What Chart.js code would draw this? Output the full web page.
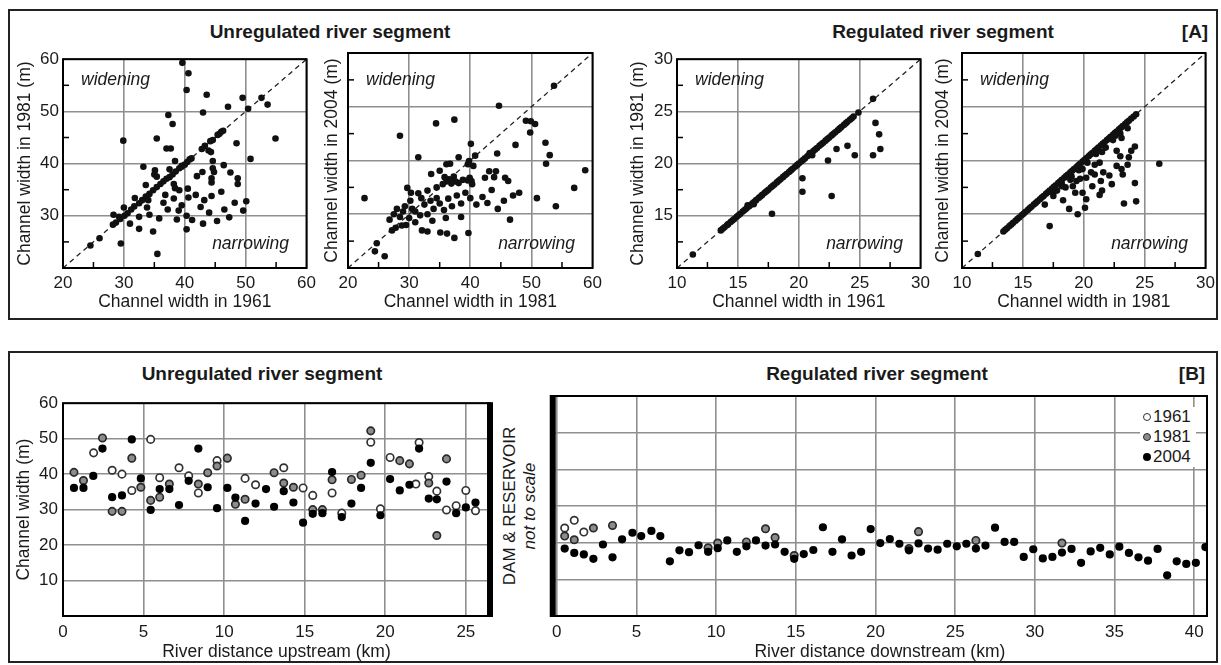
<!DOCTYPE html>
<html><head><meta charset="utf-8">
<script src="https://cdn.jsdelivr.net/npm/chart.js@4.4.1/dist/chart.umd.min.js"></script>
<style>
body{margin:0;background:#fff;width:1221px;height:665px;position:relative;overflow:hidden;font-family:"Liberation Sans",Arial,sans-serif;color:#1a1a1a}
.frame{position:absolute;border:2px solid #222;box-sizing:border-box}
canvas{position:absolute}
.t{position:absolute;font-weight:bold;font-size:19px;white-space:nowrap;transform:translate(-50%,-50%)}
.it{position:absolute;font-style:italic;font-size:17.5px;white-space:nowrap}
.rot{position:absolute;font-size:17px;white-space:nowrap;transform:translate(-50%,-50%) rotate(-90deg)}
#legend{position:absolute;left:1140px;top:407px;width:56px;height:60px;background:#fff;z-index:5}
#legend div{height:20px;line-height:20px;font-size:17px;white-space:nowrap}
#legend span{display:inline-block;width:8px;height:8px;border-radius:50%;box-sizing:border-box;margin:0 2px 0 3px;vertical-align:1px}
</style></head><body>
<div class="frame" style="left:8px;top:9px;width:1210px;height:311px"></div>
<div class="frame" style="left:8px;top:351px;width:1210px;height:312px"></div>
<div class="t" style="left:330px;top:32px">Unregulated river segment</div>
<div class="t" style="left:943px;top:32px">Regulated river segment</div>
<div class="t" style="left:1195px;top:32px">[A]</div>
<div class="t" style="left:262px;top:374px">Unregulated river segment</div>
<div class="t" style="left:877px;top:374px">Regulated river segment</div>
<div class="t" style="left:1192px;top:374px">[B]</div>
<div class="rot" style="left:510px;top:506px">DAM &amp; RESERVOIR</div>
<div class="rot" style="left:530px;top:506px;font-style:italic">not to scale</div>
<div id="legend">
<div><span style="background:#fff;border:1.6px solid #333"></span>1961</div>
<div><span style="background:#8c8c8c;border:1.6px solid #2a2a2a"></span>1981</div>
<div><span style="background:#000"></span>2004</div>
</div>
<script>
// ---------- DATA ----------
// Panel A, unregulated: [width 1961, width 1981]
const unreg81vs61 = [
[39.6,59.3],[40.6,57.3],[40.3,54.1],[43.6,53.2],[49.5,52.6],[52.6,52.6],[53.6,51.3],[47.1,50.9],[50.4,50.5],[43.0,49.8],[37.3,49.3],[38.0,47.6],[29.9,44.4],[35.4,44.8],[37.0,42.9],[37.7,42.9],[48.5,43.9],[54.9,44.8],[50.8,40.9],
[46.3,46.3],[46.0,46.1],[45.7,45.7],[45.4,45.5],[44.6,44.5],[44.2,44.3],[43.3,43.4],[42.8,42.8],[41.1,41.0],[40.8,40.8],[40.4,40.3],[40.0,39.8],[39.5,39.6],[39.1,39.1],[38.5,38.5],[38.0,37.9],[37.5,37.4],[37.0,37.1],[36.5,36.6],[36.0,36.1],[35.4,35.5],[34.8,34.9],[34.2,34.2],[33.6,33.7],[33.0,33.0],[32.5,32.4],[31.7,31.8],[31.2,31.2],[30.6,30.5],[30.1,30.0],[29.4,29.4],[28.7,28.7],[28.2,28.3],[26.0,25.7],[24.5,24.3],
[43.9,42.5],[44.3,42.2],[38.4,40.5],[33.2,39.4],[35.1,38.7],[35.0,37.9],[35.4,37.5],[37.5,38.9],[39.5,39.4],[42.9,38.4],[42.0,37.6],[44.6,40.5],[44.6,39.1],[44.8,38.4],[44.4,37.2],[44.4,36.4],[46.4,39.7],[47.5,38.3],[48.7,37.2],[48.7,36.1],[33.6,35.9],[38.2,36.1],[38.4,35.3],[39.1,34.9],[40.5,35.2],[46.0,34.6],[44.4,33.8],[50.1,32.8],
[29.5,24.7],[32.5,27.5],[34.8,27.0],[35.5,22.7],[40.3,27.4],[30.0,31.6],[29.2,29.8],[28.3,30.2],[31.0,28.5],[32.5,29.8],[33.8,31.6],[34.2,30.2],[35.8,29.5],[36.5,32.5],[37.2,31.2],[38.2,33.3],[38.7,29.3],[39.5,32.0],[40.3,30.0],[40.6,33.5],[41.2,29.2],[41.8,34.0],[42.6,31.7],[43.2,33.0],[44.0,30.6],[45.3,29.0],[46.5,31.2],[47.3,29.7],[48.2,32.5],[49.6,31.0],[36.8,34.0],[34.0,33.0],[31.8,33.4],[39.0,31.0],[43.0,28.5]
];
// Panel A, unregulated: [width 1981, width 2004]
const unreg04vs81 = [
[53.7,53.9],[44.7,50.2],[34.4,46.9],[37.4,47.6],[28.5,44.6],[49.1,47.4],[49.9,47.3],[50.6,46.8],[49.8,45.2],[47.4,42.9],[52.3,43.3],[53.0,41.0],[52.4,39.4],[44.4,41.3],[31.5,40.6],[40.1,43.1],[38.1,40.6],[40.8,40.9],[39.8,39.9],[40.5,39.0],[39.6,39.3],[36.1,39.3],[36.7,39.4],[35.0,38.1],[33.6,37.5],[43.1,38.0],[44.2,38.0],[43.9,36.9],[45.7,36.8],[46.2,36.2],[36.1,36.1],[37.0,36.4],[37.6,36.1],[38.1,35.8],[35.5,35.6],[40.2,36.2],[40.3,35.6],[42.4,36.8],[29.7,34.9],[30.3,34.0],[31.5,33.9],[22.7,33.0],[57.0,34.9],[58.8,38.2],[50.9,33.0],
[36.5,36.5],[37.3,37.0],[39.6,36.3],[39.9,36.8],[35.8,36.9],[36.9,35.7],[38.8,36.4],
[24.4,23.1],[24.7,24.6],[26.0,22.2],[27.2,27.0],[27.8,27.5],[28.8,27.9],[32.1,27.0],[33.0,26.8],[35.1,26.6],[36.2,26.4],[37.4,25.6],[39.7,26.5],
[27.5,30.0],[28.0,31.0],[28.5,29.5],[29.0,30.5],[29.3,31.5],[30.0,29.3],[30.5,31.0],[31.0,30.5],[31.8,29.8],[32.5,31.8],[33.0,30.0],[33.5,32.5],[34.0,31.0],[34.5,33.0],[35.0,32.0],[35.7,30.8],[36.4,32.9],[37.0,31.5],[37.8,33.5],[38.5,32.0],[39.2,34.0],[40.0,33.0],[41.0,31.8],[42.0,33.2],[42.8,32.1],[43.5,34.5],[44.5,31.0],[45.5,32.5],[46.5,29.0],[47.0,33.5],[31.0,28.5],[29.5,28.0],[33.8,28.8],[36.0,29.3],[38.5,29.5],[26.8,29.0],[32.0,33.0],[30.2,32.5],[34.5,35.0],[33.0,34.4],[48.0,34.0],[54.0,31.5]
];
// Panel A, regulated: points lying on the 1:1 line (width 1961 = width 1981)
const reg81vs61OnLine = [11.3,13.6,13.75,13.9,14.1,14.2,14.4,14.55,14.7,14.9,15.05,15.2,15.4,15.55,15.7,15.9,16.0,16.2,16.35,16.5,16.7,16.85,17.0,17.2,17.35,17.5,17.7,17.85,18.0,18.2,18.35,18.5,18.7,18.85,19.0,19.2,19.35,19.5,19.7,19.85,20.0,20.2,20.35,20.5,20.7,20.85,21.0,21.2,21.35,21.5,21.7,21.85,22.0,22.2,22.35,22.5,22.7,22.85,23.0,23.2,23.35,23.5,23.7,23.85,24.0,24.2,24.35,24.5,24.9];
// Panel A, regulated: [width 1961, width 1981] off the line
const reg81vs61Off = [[26.1,26.2],[26.3,23.9],[26.6,22.8],[26.7,21.4],[26.1,20.8],[24.0,21.7],[23.1,21.4],[24.6,20.8],[22.4,20.3],[20.3,18.6],[20.3,17.3],[22.7,16.9],[17.8,15.2],[20.9,21.0],[21.1,20.8],[15.8,16.0],[16.3,16.1]];
// Panel A, regulated: points on the 1:1 line (width 1981 = width 2004)
const reg04vs81OnLine = [11.3,13.4,13.55,13.7,13.9,14.05,14.2,14.4,14.55,14.7,14.9,15.05,15.2,15.4,15.55,15.7,15.9,16.05,16.2,16.4,16.55,16.7,16.9,17.05,17.2,17.4,17.55,17.7,17.9,18.05,18.2,18.4,18.55,18.7,18.9,19.05,19.2,19.4,19.55,19.7,19.9,20.05,20.2,20.4,20.55,20.7,20.9,21.05,21.2,21.4,21.55,21.7,21.9,22.05,22.2,22.4,22.55,22.7,22.9,23.05,23.2,23.4,23.55,23.7,23.9,24.1,24.3];
// Panel A, regulated: [width 1981, width 2004] below the line
const reg04vs81Off = [[17.5,17.0],[18.2,17.8],[19.0,18.5],[19.6,19.1],[20.3,19.8],[21.0,20.6],[21.8,21.2],[22.4,21.9],[23.0,22.5],
[23.6,23.0],[22.9,22.7],[23.1,22.1],[22.6,22.3],[24.2,21.3],[23.9,20.9],[23.7,20.3],[23.6,19.6],[22.7,20.9],[23.0,20.4],[21.5,20.8],[21.3,19.8],[20.6,18.9],[20.9,18.7],[19.9,19.2],[21.6,18.9],[23.1,19.2],[23.2,18.7],[26.2,19.7],[20.2,18.4],[19.4,18.1],[19.7,18.3],[21.4,18.1],[20.7,17.6],[19.1,17.6],[19.3,17.0],[21.3,16.8],[22.1,18.6],[17.2,13.9],[16.8,15.9],[17.5,16.7],[18.3,16.3],[18.8,15.5],[19.5,15.0],[20.2,16.4],[20.1,15.6],[21.5,17.2],[22.3,17.8],[23.3,16.0],[24.3,16.2],[24.2,17.9],[19.9,17.0],[18.5,17.5],[22.7,19.5],[20.9,19.6],[18.9,18.2],[18.2,17.6],[17.8,17.2]];

// Panel B: [river km, channel width m]
const up1961 = [[1.9,46.0],[3.05,41.1],[3.66,40.0],[4.27,35.4],[5.44,49.8],[6.0,39.0],[7.2,41.8],[7.8,39.5],[8.4,34.7],[9.56,43.8],[11.3,38.8],[11.95,37.0],[13.7,41.8],[14.9,36.1],[15.5,34.0],[16.7,34.7],[17.3,29.0],[19.1,49.0],[19.7,30.2],[20.3,44.7],[21.9,37.2],[22.1,48.9],[22.7,39.3],[23.2,35.2],[23.8,29.9],[24.4,31.1],[25.0,35.4],[25.6,29.7]];
const up1981 = [[0.68,40.5],[1.27,38.2],[2.45,50.2],[3.05,29.5],[3.66,29.5],[4.27,44.5],[4.83,36.3],[5.44,32.6],[6.0,33.5],[6.6,37.2],[8.4,37.2],[8.98,40.4],[9.56,42.3],[10.2,44.5],[10.7,31.5],[11.3,32.9],[13.1,40.4],[13.7,37.5],[14.3,36.3],[15.5,30.0],[16.1,30.0],[16.7,38.4],[17.9,38.5],[18.5,39.7],[19.1,52.2],[20.9,43.8],[21.5,42.9],[22.7,37.5],[23.2,22.7],[23.8,44.3]];
const up2004 = [[0.68,36.1],[1.27,36.1],[1.88,39.5],[2.45,47.2],[3.05,33.5],[3.66,34.0],[4.27,49.8],[4.83,38.8],[5.44,29.9],[6.0,35.8],[6.6,35.8],[7.2,31.3],[7.8,38.1],[8.4,47.2],[8.98,36.3],[9.56,30.4],[10.2,36.1],[10.7,33.4],[11.3,26.8],[11.95,31.7],[12.6,35.8],[13.1,30.8],[13.7,35.2],[14.3,32.0],[14.9,26.3],[15.5,28.8],[16.1,29.0],[16.7,40.6],[17.3,27.9],[17.9,31.7],[18.5,36.1],[19.1,43.2],[19.7,28.4],[20.3,38.6],[20.9,35.4],[21.5,37.0],[22.1,47.2],[22.7,33.1],[23.2,32.9],[23.8,37.9],[24.4,29.0],[25.0,30.6],[25.6,32.0]];
const down1961 = [[0.5,24.0],[1.1,26.1],[1.7,22.9]];
const down1981 = [[0.5,21.8],[1.1,20.8],[2.3,24.0],[3.5,24.7],[9.5,18.6],[10.1,19.9],[11.9,20.2],[13.1,23.8],[13.7,21.4],[14.9,16.5],[22.1,18.4],[22.7,23.0],[26.3,20.6],[31.7,19.9]];
const down2004 = [[0.5,18.4],[1.1,17.2],[1.7,16.8],[2.3,15.6],[2.9,19.5],[3.5,16.0],[4.1,20.9],[4.75,22.7],[5.3,21.8],[5.94,23.2],[6.5,21.8],[7.1,14.9],[7.7,17.9],[8.3,17.4],[8.9,19.3],[9.5,17.5],[10.1,18.5],[10.7,20.6],[11.3,17.5],[11.9,19.0],[12.5,20.6],[13.1,19.2],[13.7,19.5],[14.3,17.5],[14.9,15.6],[15.5,16.9],[16.1,18.0],[16.7,24.2],[17.3,17.5],[17.9,20.9],[18.5,16.5],[19.1,17.5],[19.7,23.7],[20.3,19.9],[20.9,21.0],[21.5,19.7],[22.1,17.9],[22.7,19.8],[23.3,18.4],[23.9,18.1],[24.5,19.7],[25.1,19.0],[25.7,19.7],[26.3,18.4],[26.9,19.2],[27.5,24.1],[28.1,20.2],[28.7,20.2],[29.3,16.1],[29.9,18.2],[30.5,15.7],[31.1,16.1],[31.7,17.3],[32.3,18.3],[32.9,14.5],[33.5,17.6],[34.1,18.6],[34.7,16.8],[35.3,18.9],[35.9,17.2],[36.5,16.0],[37.1,15.1],[37.7,18.3],[38.3,11.1],[38.9,14.9],[39.5,14.2],[40.1,14.5],[40.7,18.8]];

// Tick values
const ticksUnreg = [20,30,40,50,60];
const labelsUnregY = [30,40,50,60];
const minorUnreg = [25,35,45,55];
const ticksReg = [10,15,20,25,30];
const labelsRegY = [15,20,25,30];
const minorReg = [12.5,17.5,22.5,27.5];
const ticksBY = [0,10,20,30,40,50,60];
const labelsBY = [10,20,30,40,50,60];
const ticksUp = [0,5,10,15,20,25];
const ticksDown = [0,5,10,15,20,25,30,35,40];

// ---------- DRAWING ----------
const FONT = '"Liberation Sans", Arial, sans-serif';
const INK = '#1a1a1a';
const GRID = '#8f8f8f';

function makeDeco(cfg){
  return {id:'deco', afterDraw(chart){
    const {ctx, chartArea:a, scales} = chart;
    ctx.save();
    ctx.strokeStyle = '#000'; ctx.lineWidth = 2;
    ctx.strokeRect(a.left, a.top, a.right-a.left, a.bottom-a.top);
    ctx.lineWidth = 1.5;
    (cfg.minorX||[]).forEach(v=>{const p=scales.x.getPixelForValue(v);ctx.beginPath();ctx.moveTo(p,a.bottom);ctx.lineTo(p,a.bottom-6);ctx.stroke();});
    (cfg.minorY||[]).forEach(v=>{const p=scales.y.getPixelForValue(v);ctx.beginPath();ctx.moveTo(a.left,p);ctx.lineTo(a.left+6,p);ctx.stroke();});
    ctx.fillStyle = '#000';
    if (cfg.barRight) ctx.fillRect(a.right-3, a.top-1, 6, a.bottom-a.top+2);
    if (cfg.barLeft) ctx.fillRect(a.left-3, a.top-1, 6, a.bottom-a.top+2);
    ctx.restore();
  }};
}

function axis(o){
  return {
    type:'linear', min:o.min, max:o.max,
    afterBuildTicks: s => { s.ticks = o.ticks.map(v=>({value:v})); },
    afterFit: s => { if (o.horiz) s.height = o.size; else s.width = o.size; },
    grid:{color:GRID, lineWidth:1.6, drawTicks:false},
    border:{display:false},
    ticks:{display:o.labels.length>0, padding:o.pad, color:INK, font:{family:FONT,size:17}, autoSkip:false, maxRotation:0, minRotation:0,
      callback:(v)=> o.labels.includes(v) ? String(v) : ''},
    title:{display:!!o.title, text:o.title||'', color:INK, font:{family:FONT,size:17.5}, padding:o.tpad||0}
  };
}

function makeChart(box, datasets, sx, sy, deco){
  const c = document.createElement('canvas');
  c.width = box.W; c.height = box.H;
  c.style.left = box.L+'px'; c.style.top = box.T+'px';
  c.style.width = box.W+'px'; c.style.height = box.H+'px';
  document.body.appendChild(c);
  return new Chart(c, {type:'scatter', data:{datasets}, options:{
    responsive:false, animation:false, events:[],
    layout:{autoPadding:false, padding:{left:0, top:box.pt, right:box.pr, bottom:0}},
    plugins:{legend:{display:false}, tooltip:{enabled:false}},
    scales:{x:sx, y:sy}
  }, plugins:[makeDeco(deco)]});
}

const pts = arr => arr.map(([x,y])=>({x,y}));
const onLine = arr => arr.map(v=>({x:v,y:v}));
const dots = data => ({data, pointRadius:3.3, pointBackgroundColor:'#111', pointBorderWidth:0, showLine:false});
const oneToOne = (lo,hi) => ({data:[{x:lo,y:lo},{x:hi,y:hi}], showLine:true, borderColor:'#222', borderWidth:1.3, borderDash:[5,4], pointRadius:0, fill:false});

// Panel A
const aPanels = [
  {L:11, W:310, yw:52, lo:20, hi:60, t:ticksUnreg, ly:labelsUnregY, mn:minorUnreg, data:[dots(pts(unreg81vs61))], xt:'Channel width in 1961', yt:'Channel width in 1981 (m)'},
  {L:318, W:289, yw:30, lo:20, hi:60, t:ticksUnreg, ly:[], mn:minorUnreg, data:[dots(pts(unreg04vs81))], xt:'Channel width in 1981', yt:'Channel width in 2004 (m)'},
  {L:624, W:311, yw:53, lo:10, hi:30, t:ticksReg, ly:labelsRegY, mn:minorReg, data:[dots(onLine(reg81vs61OnLine)), dots(pts(reg81vs61Off))], xt:'Channel width in 1961', yt:'Channel width in 1981 (m)'},
  {L:929, W:291, yw:33, lo:10, hi:30, t:ticksReg, ly:[], mn:minorReg, data:[dots(onLine(reg04vs81OnLine)), dots(pts(reg04vs81Off))], xt:'Channel width in 1981', yt:'Channel width in 2004 (m)'}
];
aPanels.forEach(p=>{
  makeChart({L:p.L, T:45, W:p.W, H:268, pt:8, pr:14},
    [...p.data, oneToOne(p.lo,p.hi)],
    axis({horiz:true, size:45, min:p.lo, max:p.hi, ticks:p.t, labels:p.t, pad:5, title:p.xt, tpad:{top:0,bottom:0.5}}),
    axis({horiz:false, size:p.yw, min:p.lo, max:p.hi, ticks:p.t, labels:p.ly, pad:4, title:p.yt, tpad:{top:3.5,bottom:0}}),
    {minorX:p.mn, minorY:p.mn});
  const left = p.L + p.yw, right = p.L + p.W - 14;
  const w = document.createElement('div'); w.className='it'; w.textContent='widening';
  w.style.left=(left+18)+'px'; w.style.top='79px'; w.style.transform='translateY(-50%)'; document.body.appendChild(w);
  const n = document.createElement('div'); n.className='it'; n.textContent='narrowing';
  n.style.left=(right-18)+'px'; n.style.top='243px'; n.style.transform='translate(-100%,-50%)'; document.body.appendChild(n);
});

// Panel B
const yr1961 = d => ({data:pts(d), pointRadius:3.7, pointBackgroundColor:'#fff', pointBorderColor:'#333', pointBorderWidth:1.7, showLine:false});
const yr1981 = d => ({data:pts(d), pointRadius:3.7, pointBackgroundColor:'#8c8c8c', pointBorderColor:'#2a2a2a', pointBorderWidth:1.7, showLine:false});
const yr2004 = d => ({data:pts(d), pointRadius:4.1, pointBackgroundColor:'#000', pointBorderWidth:0, showLine:false});

makeChart({L:10, T:388, W:490, H:276, pt:8, pr:10},
  [yr2004(up2004), yr1981(up1981), yr1961(up1961)],
  axis({horiz:true, size:48, min:0, max:26.5, ticks:ticksUp, labels:ticksUp, pad:6, title:'River distance upstream (km)', tpad:{top:0,bottom:1.5}}),
  axis({horiz:false, size:53, min:0, max:60, ticks:ticksBY, labels:labelsBY, pad:5, title:'Channel width (m)', tpad:{top:3.5,bottom:0}}),
  {barRight:true});

makeChart({L:546, T:388, W:673, H:276, pt:8, pr:12},
  [yr2004(down2004), yr1981(down1981), yr1961(down1961)],
  axis({horiz:true, size:48, min:-0.25, max:40.8, ticks:ticksDown, labels:ticksDown, pad:6, title:'River distance downstream (km)', tpad:{top:0,bottom:1.5}}),
  axis({horiz:false, size:0, min:0, max:60, ticks:ticksBY, labels:[], pad:0}),
  {barLeft:true});
</script>
</body></html>
